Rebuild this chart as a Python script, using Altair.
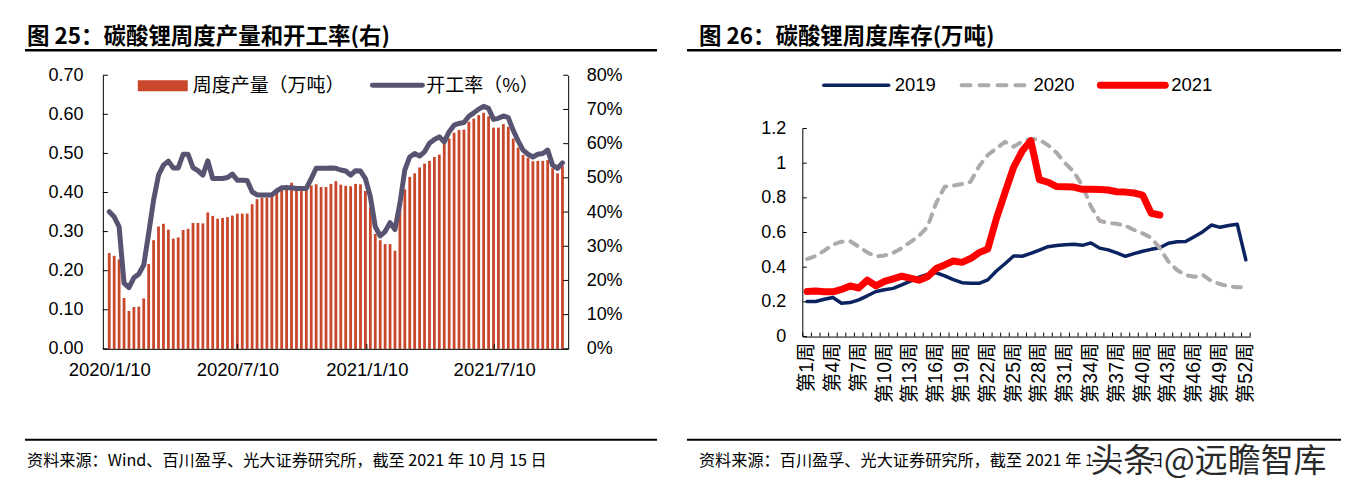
import altair as alt
import pandas as pd

# ---------------- Left panel data (图25) ----------------
dates = pd.date_range("2020-01-10", periods=93, freq="7D").strftime("%Y-%m-%d").tolist()
prod = [0.245, 0.238, 0.229, 0.130, 0.097, 0.107, 0.108, 0.129, 0.217, 0.278,
        0.313, 0.320, 0.305, 0.282, 0.285, 0.304, 0.307, 0.322, 0.322, 0.321,
        0.349, 0.340, 0.333, 0.335, 0.337, 0.341, 0.346, 0.346, 0.346, 0.370,
        0.383, 0.387, 0.387, 0.391, 0.410, 0.416, 0.419, 0.425, 0.410, 0.410,
        0.412, 0.418, 0.421, 0.414, 0.414, 0.422, 0.429, 0.420, 0.417, 0.416,
        0.422, 0.421, 0.404, 0.362, 0.294, 0.278, 0.268, 0.268, 0.251, 0.360,
        0.408, 0.440, 0.449, 0.464, 0.474, 0.481, 0.491, 0.497, 0.525, 0.538,
        0.553, 0.560, 0.561, 0.581, 0.589, 0.598, 0.604, 0.595, 0.566, 0.566,
        0.575, 0.568, 0.538, 0.515, 0.496, 0.489, 0.480, 0.481, 0.481, 0.483,
        0.462, 0.449, 0.467]
rate = [40.1, 38.6, 35.7, 19.2, 17.9, 20.8, 21.9, 24.5, 33.8, 43.5,
        50.8, 53.7, 54.9, 52.9, 52.9, 56.9, 56.9, 53.0, 52.1, 50.8,
        55.0, 49.8, 49.8, 49.8, 50.1, 51.1, 49.3, 49.3, 49.2, 45.9,
        45.0, 45.0, 45.0, 45.0, 46.2, 47.1, 47.1, 47.1, 46.9, 46.9,
        46.9, 49.8, 52.8, 52.8, 52.8, 52.9, 52.8, 52.3, 52.0, 50.8,
        52.1, 52.0, 49.8, 44.5, 35.7, 33.0, 34.3, 36.9, 34.9, 42.5,
        52.3, 56.1, 57.1, 56.4, 57.6, 60.1, 61.2, 62.0, 60.5, 63.5,
        65.4, 65.9, 66.2, 68.0, 69.0, 70.1, 70.9, 70.3, 67.1, 67.4,
        68.1, 67.6, 63.9, 60.8, 58.1, 56.9, 56.1, 56.9, 57.1, 58.1,
        53.7, 52.8, 54.4]
left_ticks = [0.0, 0.1, 0.2, 0.3, 0.4, 0.5, 0.6, 0.7]
right_ticks = [0, 10, 20, 30, 40, 50, 60, 70, 80]
x_label_dates = [(2020, 1, 10), (2020, 7, 10), (2021, 1, 10), (2021, 7, 10)]

# ---------------- Right panel data (图26) ----------------
weeks = list(range(1, 53))
inv2019 = [0.202, 0.202, 0.215, 0.225, 0.192, 0.196, 0.212, 0.235, 0.260, 0.270,
           0.278, 0.298, 0.320, 0.342, 0.358, 0.368, 0.350, 0.328, 0.311, 0.307,
           0.307, 0.327, 0.378, 0.420, 0.465, 0.463, 0.480, 0.499, 0.518, 0.525,
           0.530, 0.532, 0.526, 0.540, 0.510, 0.500, 0.482, 0.463, 0.478, 0.492,
           0.503, 0.512, 0.538, 0.547, 0.548, 0.576, 0.605, 0.643, 0.630, 0.640,
           0.648, 0.442]
inv2020 = [0.447, 0.465, 0.495, 0.530, 0.547, 0.550, 0.518, 0.485, 0.462, 0.468,
           0.482, 0.510, 0.545, 0.580, 0.634, 0.770, 0.864, 0.870, 0.880, 0.893,
           0.983, 1.047, 1.085, 1.123, 1.095, 1.125, 1.140, 1.135, 1.104, 1.060,
           1.000, 0.950, 0.870, 0.750, 0.668, 0.655, 0.650, 0.640, 0.615, 0.595,
           0.570, 0.510, 0.432, 0.384, 0.355, 0.345, 0.355, 0.320, 0.303, 0.290,
           0.285, 0.285]
inv2021 = [0.260, 0.263, 0.258, 0.258, 0.272, 0.292, 0.280, 0.325, 0.293, 0.318,
           0.333, 0.348, 0.337, 0.325, 0.345, 0.392, 0.413, 0.436, 0.428, 0.450,
           0.484, 0.505, 0.680, 0.830, 0.975, 1.070, 1.130, 0.905, 0.890, 0.865,
           0.864, 0.862, 0.849, 0.849, 0.848, 0.845, 0.835, 0.833, 0.828, 0.816,
           0.711, 0.701]
inv_ticks = [0, 0.2, 0.4, 0.6, 0.8, 1.0, 1.2]
week_labels = list(range(1, 53, 3))
week_bounds = [w + 0.5 for w in range(0, 53)]

# ---------------- styling ----------------
LAT = "Liberation Sans, Noto Sans CJK SC"
CJK = "Noto Sans CJK SC"
BAR = "#C9472B"
LINE = "#575370"
NAVY = "#0B2361"
GRAY = "#AEAAAA"
RED = "#FF0000"
W1, H1 = 466, 274
W2, H2 = 448, 261.7
Y2MAX = 1.2 * H2 / 208.4

one = pd.DataFrame({"k": [0]})


def txt(s, x, y, size, weight="normal", align="left", color="black", font=CJK, **kw):
    return alt.Chart(one).mark_text(
        text=s, align=align, baseline="middle", fontSize=size,
        fontWeight=weight, font=font, color=color, **kw
    ).encode(x=alt.value(x), y=alt.value(y))


def hrule(x1, x2, y, color="black", width=1.0, dash=None, cap="butt"):
    kw = {}
    if dash:
        kw["strokeDash"] = dash
    return alt.Chart(one).mark_rule(color=color, strokeWidth=width, strokeCap=cap, **kw).encode(
        x=alt.value(x1), x2=alt.value(x2), y=alt.value(y))


def dt(y, m, d):
    return alt.DateTime(year=y, month=m, date=d, utc=True)


# ================= Panel 1 =================
df1 = pd.DataFrame({"date": dates, "prod": prod, "rate": rate})
xs1 = alt.Scale(type="utc", domain=[dt(2020, 1, 8), dt(2021, 10, 16)])
ys1l = alt.Scale(domain=[0, 0.7], nice=False)
ys1r = alt.Scale(domain=[0, 80], nice=False)

bg = alt.Chart(one).mark_rect(color="white").encode(
    x=alt.value(-95), x2=alt.value(1240), y=alt.value(-67), y2=alt.value(408))

bars = alt.Chart(df1).mark_bar(size=2.8, color=BAR).encode(
    x=alt.X("date:T", scale=xs1, title=None, axis=alt.Axis(
        values=[dt(*d) for d in x_label_dates],
        labelExpr="utcFormat(datum.value, '%Y/%-m/%-d')",
        labelFont=LAT, labelFontSize=18.5, labelColor="black", labelPadding=12,
        ticks=False, tickSize=0, domainColor="black", grid=False, zindex=2,
        labelOverlap=False, labelFlush=False)),
    y=alt.Y("prod:Q", scale=ys1l, title=None, axis=alt.Axis(
        orient="left", values=left_ticks, format=".2f", labelFont=LAT,
        labelFontSize=18, labelColor="black", labelPadding=20, ticks=False,
        tickSize=0, domainColor="black", grid=False, labelFlush=False, zindex=2,
        labelOverlap=False)),
)

line = alt.Chart(df1).mark_line(color=LINE, strokeWidth=5, strokeJoin="round", strokeCap="round").encode(
    x=alt.X("date:T", scale=xs1),
    y=alt.Y("rate:Q", scale=ys1r, title=None, axis=alt.Axis(
        orient="right", values=right_ticks, labelExpr="datum.value + '%'",
        labelFont=LAT, labelFontSize=18, labelColor="black", labelPadding=18,
        ticks=False, tickSize=0, domainColor="black", grid=False, zindex=2,
        labelFlush=False, labelOverlap=False)),
)

tl1 = alt.Chart(pd.DataFrame({"v": left_ticks})).mark_rule(color="black").encode(
    y=alt.Y("v:Q", scale=ys1l, axis=None), x=alt.value(0), x2=alt.value(5))
tr1 = alt.Chart(pd.DataFrame({"v": right_ticks})).mark_rule(color="black").encode(
    y=alt.Y("v:Q", scale=ys1r, axis=None), x=alt.value(W1 - 5), x2=alt.value(W1))
tb1 = alt.Chart(pd.DataFrame({"d": ["%04d-%02d-%02d" % d for d in x_label_dates[1:]]})).mark_rule(color="black").encode(
    x=alt.X("d:T", scale=xs1), y=alt.value(H1 - 5), y2=alt.value(H1))

leg1_rect = alt.Chart(one).mark_rect(color=BAR).encode(
    x=alt.value(35), x2=alt.value(85), y=alt.value(5), y2=alt.value(16))
leg1_t1 = txt("周度产量（万吨）", 90, 11, 19)
leg1_line = hrule(270, 320, 10, color=LINE, width=5, cap="round")
leg1_t2 = txt("开工率（%）", 324, 11, 19)

title1 = txt("图 25：碳酸锂周度产量和开工率(右)", -76, -38, 22.5, weight="bold")
sep1a = hrule(-78, 555, -25, width=2.5)
sep1b = hrule(-78, 555, 365, width=2)
foot1 = txt("资料来源：Wind、百川盈孚、光大证券研究所，截至 2021 年 10 月 15 日", -76, 386, 16.2)

p1 = alt.layer(bg, bars, line, tl1, tr1, tb1, leg1_rect, leg1_t1, leg1_line, leg1_t2,
               title1, sep1a, sep1b, foot1).resolve_scale(y="independent").properties(width=W1, height=H1)

# ================= Panel 2 =================
xs2 = alt.Scale(domain=[0.5, 52.5], nice=False, zero=False)
ys2 = alt.Scale(domain=[0, Y2MAX], nice=False)

d19 = pd.DataFrame({"w": weeks, "v": inv2019})
d20 = pd.DataFrame({"w": weeks, "v": inv2020})
d21 = pd.DataFrame({"w": weeks[:len(inv2021)], "v": inv2021})

l19 = alt.Chart(d19).mark_line(color=NAVY, strokeWidth=3.5, strokeJoin="round", strokeCap="round").encode(
    x=alt.X("w:Q", scale=xs2, title=None, axis=alt.Axis(
        labels=False, ticks=False, tickSize=0, domainColor="black", grid=False)),
    y=alt.Y("v:Q", scale=ys2, title=None, axis=alt.Axis(
        values=inv_ticks, format="~g", labelFont=LAT, labelFontSize=18,
        labelColor="black", labelPadding=17, ticks=False, tickSize=0,
        domain=False, grid=False, labelFlush=False, labelOverlap=False)),
)
l20 = alt.Chart(d20).mark_line(color=GRAY, strokeWidth=4, strokeDash=[8, 8], strokeJoin="round", strokeCap="round").encode(
    x=alt.X("w:Q", scale=xs2), y=alt.Y("v:Q", scale=ys2))
l21 = alt.Chart(d21).mark_line(color=RED, strokeWidth=7, strokeJoin="round", strokeCap="round").encode(
    x=alt.X("w:Q", scale=xs2), y=alt.Y("v:Q", scale=ys2))

xlab2 = alt.Chart(pd.DataFrame({"w": week_labels})).transform_calculate(
    lab="'第' + datum.w + '周'").mark_text(
    angle=270, align="right", baseline="middle", font=LAT, fontSize=19.5, color="black"
).encode(x=alt.X("w:Q", scale=xs2), y=alt.value(H2 + 6), text="lab:N")

yaxis2 = alt.Chart(one).mark_rule(color="black").encode(
    x=alt.value(0), y=alt.datum(0), y2=alt.datum(1.2))
ty2 = alt.Chart(pd.DataFrame({"v": inv_ticks})).mark_rule(color="black").encode(
    y=alt.Y("v:Q", scale=ys2), x=alt.value(0), x2=alt.value(4))
tx2 = alt.Chart(pd.DataFrame({"b": week_bounds})).mark_rule(color="black").encode(
    x=alt.X("b:Q", scale=xs2), y=alt.value(H2 - 4), y2=alt.value(H2))

leg2 = [
    hrule(21, 86, 10, color=NAVY, width=3.5, cap="round"),
    txt("2019", 92, 10, 18.5, font=LAT),
    hrule(159, 226, 10, color=GRAY, width=4, dash=[9, 9], cap="round"),
    txt("2020", 231, 10, 18.5, font=LAT),
    hrule(298, 363, 10, color=RED, width=7, cap="round"),
    txt("2021", 369, 10, 18.5, font=LAT),
]

title2 = txt("图 26：碳酸锂周度库存(万吨)", -104, -38, 22.5, weight="bold")
sep2a = hrule(-116, 539, -25, width=2.5)
sep2b = hrule(-116, 539, 365, width=2)
foot2 = txt("资料来源：百川盈孚、光大证券研究所，截至 2021 年 10 月 15 日", -104, 386, 16.2)
wm_halo = txt("头条 @远瞻智库", 288, 387, 33, color="white", stroke="white", strokeWidth=5)
wm = txt("头条 @远瞻智库", 288, 387, 33, color="#2a2a2a")

p2 = alt.layer(l19, l20, l21, xlab2, yaxis2, ty2, tx2, *leg2, title2, sep2a, sep2b, foot2,
               wm_halo, wm).properties(width=W2, height=H2)

chart = alt.hconcat(p1, p2, spacing=804 - 569, bounds="flush").properties(
    padding=0).configure_view(stroke=None)

chart.save("out.html", embed_options={"renderer": "svg", "actions": False})
